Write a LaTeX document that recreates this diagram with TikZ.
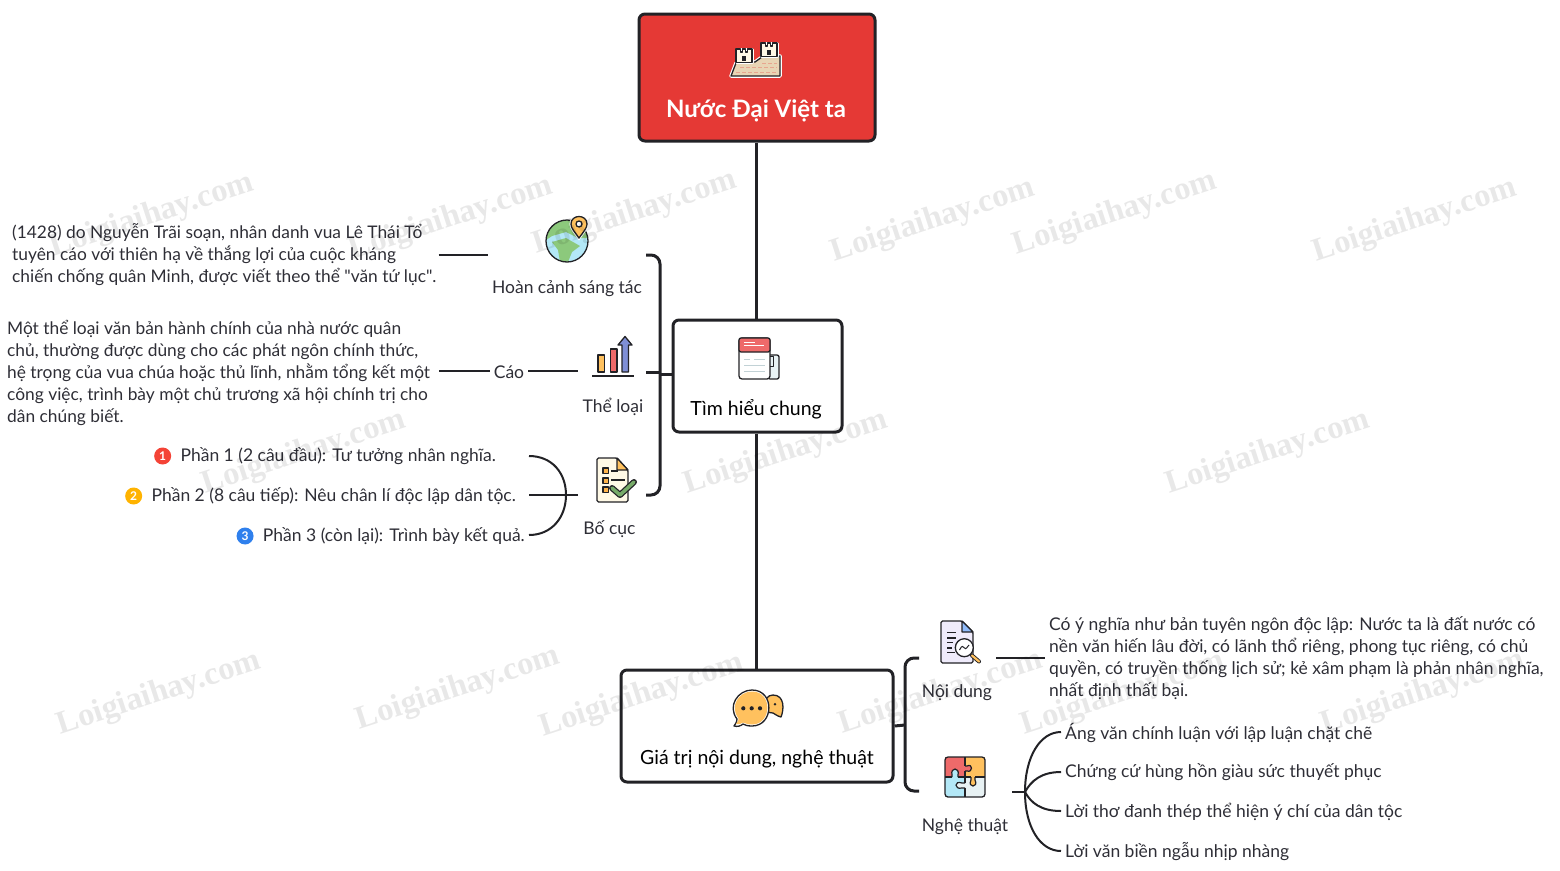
\documentclass[tikz,border=0pt]{standalone}
\usepackage{fontspec}
\setmainfont{Lato}
\newfontfamily\quotefont{Lato}
\newfontfamily\markfont{Liberation Serif}
\usetikzlibrary{positioning, calc}

\definecolor{inkc}{HTML}{222226}
\definecolor{textc}{HTML}{2E2E36}
\definecolor{rootc}{HTML}{E53935}
\definecolor{yellowc}{HTML}{FFC15E}
\definecolor{redc}{HTML}{EE6A6A}
\definecolor{bluec}{HTML}{B3E8F7}
\definecolor{greenc}{HTML}{8CC97C}
\definecolor{indigoc}{HTML}{7F8FD6}
\definecolor{paperc}{HTML}{FFF9E6}
\definecolor{lilacc}{HTML}{EFEBFB}
\definecolor{mistc}{HTML}{E8F2F4}
\definecolor{sandc}{HTML}{E8D5B5}
\definecolor{badgered}{HTML}{F44336}
\definecolor{badgeorange}{HTML}{FFB300}
\definecolor{badgeblue}{HTML}{2F80ED}

\begin{document}
\begin{tikzpicture}[
		x=1pt, y=-1pt,
		font=\fontsize{17.5}{22}\selectfont,
		text=textc,
		box/.style={
			draw=inkc,
			fill=white,
			line width=3pt,
			rectangle,
			rounded corners=6pt
		},
		boxtext/.style={
			font=\fontsize{19.5}{22}\selectfont,
			text=black
		},
		desc/.style={
			align=left,
			inner sep=0pt,
			anchor=west
		},
		leftdesc/.style={
			desc,
			font=\fontsize{17.35}{22}\selectfont
		},
		topic/.style={
			inner sep=0pt
		},
		part/.style={
			inner sep=0pt,
			anchor=west
		},
		badge/.style={
			circle,
			inner sep=0pt,
			minimum size=17pt,
			font=\fontsize{12}{12}\selectfont\bfseries,
			text=white
		},
		trunk/.style={inkc, line width=3pt},
		bracket/.style={inkc, line width=3pt, rounded corners=9pt},
		twig/.style={inkc, line width=2pt},
		icon/.style={draw=inkc, line width=1.3pt, line join=round},
		watermark/.style={
			font=\markfont\fontsize{32.5}{33}\selectfont\bfseries,
			text=black,
			text opacity=0.09,
			rotate=18,
			inner sep=0pt
		}
		]
		\useasboundingbox (0,0) rectangle (1560,870);
		
		% ---- Main boxes ----
		\node[box, fill=rootc, minimum width=236pt, minimum height=127pt] (root) at (757,77.5) {};
		\node[boxtext, font=\fontsize{24}{26}\selectfont\bfseries, text=white] (rootlabel) at (756,111) {Nước Đại Việt ta};
		
		\node[box, minimum width=169pt, minimum height=112pt] (tim) at (757.5,376) {};
		\node[boxtext] (timlabel) at (756,409.5) {Tìm hiểu chung};
		
		\node[box, minimum width=272pt, minimum height=112pt] (gia) at (757,726) {};
		\node[boxtext] (gialabel) at (757,759.5) {Giá trị nội dung, nghệ thuật};
		
		\draw[trunk] (root.south -| 756,0) -- (tim.north -| 756,0);
		\draw[trunk] (tim.south -| 756,0) -- (gia.north -| 756,0);
		
		% ---- Left side ----
		\node[topic] (hoan) at (567,288.5) {Hoàn cảnh sáng tác};
		\node[topic] (theloai) at (613,406.5) {Thể loại};
		\node[topic] (bocuc) at (609.5,529.5) {Bố cục};
		\node[topic] (cao) at (509,372) {Cáo};
		
		\node[leftdesc] (tacpham) at (12,255) {(1428) do Nguyễn Trãi soạn, nhân danh vua Lê Thái Tổ\\tuyên cáo với thiên hạ về thắng lợi của cuộc kháng\\chiến chống quân Minh, được viết theo thể {\quotefont"}văn tứ lục{\quotefont"}.};
		\node[leftdesc] (caotext) at (7,372.5) {Một thể loại văn bản hành chính của nhà nước quân\\chủ, thường được dùng cho các phát ngôn chính thức,\\hệ trọng của vua chúa hoặc thủ lĩnh, nhằm tổng kết một\\công việc, trình bày một chủ trương xã hội chính trị cho\\dân chúng biết.};
		
		\node[part, anchor=east] (phan1) at (496,456) {Phần 1 (2 câu đầu): Tư tưởng nhân nghĩa.};
		\node[part, anchor=east] (phan2) at (516,496) {Phần 2 (8 câu tiếp): Nêu chân lí độc lập dân tộc.};
		\node[part, anchor=east] (phan3) at (525,536) {Phần 3 (còn lại): Trình bày kết quả.};
		\node[badge, fill=badgered, left=9pt of phan1] (badge1) {1};
		\node[badge, fill=badgeorange, left=9pt of phan2] (badge2) {2};
		\node[badge, fill=badgeblue, left=9pt of phan3] (badge3) {3};
		
		\coordinate (hoanL) at (488,255);
		\coordinate (hoanR) at (646,255);
		\coordinate (theloaiL) at (578,371);
		\coordinate (theloaiR) at (646,372);
		\coordinate (bocucL) at (578,495);
		\coordinate (bocucR) at (646,495);
		\coordinate (spineL) at (660,372);
		\coordinate (forkL) at (566,495);
		\coordinate (part1end) at (529,456);
		\coordinate (part2end) at (529,495);
		\coordinate (part3end) at (529,535);
		
		\draw[bracket] (hoanR) -- (hoanR -| spineL) -- (bocucR -| spineL) -- (bocucR);
		\draw[trunk] (theloaiR) -- (spineL);
		\draw[trunk] ([yshift=2pt]tim.west) -- ([yshift=2pt]tim.west -| spineL);
		
		\draw[twig] ([xshift=2pt]tacpham.east |- hoanL) -- (hoanL);
		\draw[twig] ([xshift=9pt]caotext.east |- theloaiL) -- ([xshift=-4pt]cao.west |- theloaiL);
		\draw[twig] ([xshift=4pt]cao.east |- theloaiL) -- (theloaiL);
		
		\draw[twig] (bocucL) -- (part2end);
		\draw[twig] (forkL) .. controls (566,473) and (552,456) .. (part1end);
		\draw[twig] (forkL) .. controls (566,517) and (552,535) .. (part3end);
		
		% ---- Right side ----
		\node[topic] (noidung) at (957,692.5) {Nội dung};
		\node[topic] (nghethuat) at (965,826.5) {Nghệ thuật};
		
		\node[desc] (noidungtext) at (1049,658.5) {Có ý nghĩa như bản tuyên ngôn độc lập: Nước ta là đất nước có\\nền văn hiến lâu đời, có lãnh thổ riêng, phong tục riêng, có chủ\\quyền, có truyền thống lịch sử; kẻ xâm phạm là phản nhân nghĩa,\\nhất định thất bại.};
		
		\node[part] (art1) at (1065,733) {Áng văn chính luận với lập luận chặt chẽ};
		\node[part] (art2) at (1065,772) {Chứng cứ hùng hồn giàu sức thuyết phục};
		\node[part] (art3) at (1065,812) {Lời thơ đanh thép thể hiện ý chí của dân tộc};
		\node[part] (art4) at (1065,852) {Lời văn biền ngẫu nhịp nhàng};
		
		\coordinate (noidungL) at (919,658);
		\coordinate (noidungR) at (996,658);
		\coordinate (nghethuatL) at (919,791);
		\coordinate (nghethuatR) at (1012,792);
		\coordinate (spineR) at (905,725);
		\coordinate (forkR) at (1025,792);
		
		\draw[bracket] (noidungL) -- (noidungL -| spineR) -- (nghethuatL -| spineR) -- (nghethuatL);
		\draw[trunk] (gia.east) -- (spineR);
		
		\draw[twig] (noidungR) -- ([xshift=-4pt]noidungtext.west |- noidungR);
		\draw[twig] (nghethuatR) -- (forkR);
		\draw[twig] (forkR) .. controls (1025,757) and (1040,732) .. ([xshift=-4pt]art1.west |- 0,732);
		\draw[twig] (forkR) .. controls (1031,781) and (1041,772) .. ([xshift=-4pt]art2.west |- 0,772);
		\draw[twig] (forkR) .. controls (1031,803) and (1041,811) .. ([xshift=-4pt]art3.west |- 0,811);
		\draw[twig] (forkR) .. controls (1025,827) and (1040,851) .. ([xshift=-4pt]art4.west |- 0,851);
		
		% ---- Icon: castle ----
		\draw[white, line width=3.5pt, line join=round] (731,76) -- (736,63) -- (755,62) -- (762,57) -- (780,56) -- (780,76) -- cycle;
		\draw[icon, fill=sandc] (731,76) -- (736,63) -- (755,62) -- (762,57) -- (780,56) -- (780,76) -- cycle;
		\draw[rootc!30!sandc, line width=1pt, dash pattern=on 4pt off 2pt] (736,72) -- (777,72) (740,67.5) -- (777,67.5) (762,63) -- (777,63);
		\foreach \tx/\ty in {736/49, 761/43} {
			\draw[white, line width=3pt, line join=round] (\tx,\ty) rectangle (\tx+16,\ty+13.5);
			\draw[icon, fill=paperc] (\tx,\ty) -- (\tx+4.5,\ty) -- (\tx+4.5,\ty+3) -- (\tx+6.5,\ty+3) -- (\tx+6.5,\ty) -- (\tx+9.5,\ty) -- (\tx+9.5,\ty+3) -- (\tx+11.5,\ty+3) -- (\tx+11.5,\ty) -- (\tx+16,\ty) -- (\tx+16,\ty+13.5) -- (\tx,\ty+13.5) -- cycle;
			\fill[inkc] (\tx+6,\ty+11.5) rectangle (\tx+10,\ty+7);
		}
		
		% ---- Icon: globe ----
		\begin{scope}
			\clip (567,241) circle (21pt);
			\fill[bluec] (546,220) rectangle (588,262);
			\fill[greenc] (546,226) -- (562,219) -- (590,222) -- (590,238) -- (578,238) -- (566,232) -- (552,236) -- (546,240) -- cycle;
			\fill[greenc] (552,242) -- (566,238) -- (580,246) -- (572,252) -- (568,262) -- (560,262) -- (558,250) -- cycle;
		\end{scope}
		\draw[icon] (567,241) circle (21pt);
		\draw[white, line width=3pt] (579,238) .. controls (574,231) and (571,228) .. (571,224) .. controls (571,214) and (587,214) .. (587,224) .. controls (587,228) and (584,231) .. (579,238) -- cycle;
		\draw[icon, fill=yellowc] (579,238) .. controls (574,231) and (571,228) .. (571,224) .. controls (571,214) and (587,214) .. (587,224) .. controls (587,228) and (584,231) .. (579,238) -- cycle;
		\draw[icon, fill=white] (579,224) circle (3pt);
		
		% ---- Icon: bars ----
		\draw[icon, fill=yellowc] (598,355) rectangle (604.5,372);
		\draw[icon, fill=redc] (610.5,349) rectangle (617,372);
		\draw[icon, fill=indigoc] (622,372) -- (622,345) -- (618,345) -- (625,336.5) -- (632,345) -- (628.5,345) -- (628.5,372) -- cycle;
		\draw[inkc, line width=1.5pt] (592,376) -- (634,376);
		
		% ---- Icon: checklist ----
		\draw[icon, fill=paperc, rounded corners=1.5pt] (597,458) -- (617,458) -- (628,470) -- (628,502) -- (597,502) -- cycle;
		\draw[icon, fill=yellowc] (617,458) -- (628,470) -- (617,470) -- cycle;
		\foreach \qy in {468, 478, 487} {
			\draw[icon, fill=yellowc!80!orange] (603,\qy) rectangle (608.5,\qy+5.5);
		}
		\draw[inkc, line width=1.2pt] (611,471) -- (618,471) (611,480) -- (625,480);
		\draw[inkc, line width=6pt, line join=round, line cap=round] (612,488) -- (620,495) -- (634,482);
		\draw[greenc!85!black, line width=3.5pt, line join=round, line cap=round] (612,488) -- (620,495) -- (634,482);
		
		% ---- Icon: newspaper ----
		\draw[icon, fill=mistc, rounded corners=2pt] (768,355) -- (779,355) -- (779,379) -- (768,379) -- cycle;
		\draw[icon, fill=white, rounded corners=3pt] (739,338) -- (770,338) -- (770,379) -- (739,379) -- cycle;
		\draw[icon, fill=redc, rounded corners=2pt] (739,352) -- (739,338) -- (770,338) -- (770,352) -- cycle;
		\draw[white, line width=1pt] (744,342) -- (755,342) (744,345.5) -- (764,345.5);
		\draw[bluec!50!gray!60, line width=1pt] (744,359) -- (750,359) (754,359) -- (765,359) (744,365) -- (765,365) (744,371) -- (765,371);
		\draw[icon, line width=1pt] (770,356) -- (773,356) -- (773,366) -- (770,366);
		
		% ---- Icon: chat ----
		\draw[icon, fill=yellowc] (781,717) .. controls (777,716) and (775,714) .. (773,713) .. controls (762,714) and (762,695) .. (773,695) .. controls (785,695) and (784,710) .. (781,717) -- cycle;
		\fill[inkc] (775,704.3) circle (1.4pt);
		\draw[icon, fill=white] (734,726) .. controls (737,722) and (737,720) .. (737,719) .. controls (727,706) and (738,690) .. (752,690) .. controls (775,690) and (774,726) .. (752,726) .. controls (747,726) and (745,725) .. (743,724) .. controls (741,726) and (737,727) .. (734,726) -- cycle;
		\fill[yellowc] (736,724) .. controls (738,721) and (739,720) .. (738.5,718.5) .. controls (729,706) and (739,691.5) .. (752,691.5) .. controls (773,691.5) and (772,724.5) .. (752,724.5) .. controls (747,724.5) and (745,723) .. (743,722.5) .. controls (741,724) and (738,725) .. (736,724) -- cycle;
		\foreach \dotx in {743.3, 751.7, 760} {
			\fill[inkc] (\dotx,708.3) circle (2.1pt);
		}
		
		% ---- Icon: document search ----
		\draw[icon, fill=lilacc, rounded corners=1.5pt] (941,621) -- (962,621) -- (973,632) -- (973,663) -- (941,663) -- cycle;
		\draw[icon, fill=bluec!80!blue] (962,621) -- (973,632) -- (962,632) -- cycle;
		\draw[inkc, line width=1.2pt] (947,632.7) -- (956,632.7) (947,638) -- (956,638) (947,642.7) -- (953,642.7) (947,648) -- (952,648) (947,652.5) -- (955,652.5);
		\draw[inkc, line width=4pt, line cap=round] (972,655.5) -- (979,661.5);
		\draw[yellowc, line width=2.2pt, line cap=round] (972,655.5) -- (979,661.5);
		\draw[icon, fill=white] (964.3,647.7) circle (9pt);
		\draw[inkc, line width=1pt] (959.5,650) .. controls (962,645) and (963,646) .. (964.5,648) .. controls (966,650) and (967,647) .. (969,645);
		
		% ---- Icon: puzzle ----
		\fill[redc] (945,757) rectangle (965,777);
		\fill[yellowc] (965,757) rectangle (985,777);
		\fill[bluec] (945,777) rectangle (965,797);
		\fill[mistc] (965,777) rectangle (985,797);
		\draw[inkc, line width=1.2pt, fill=bluec] (952,777) -- (952,775) .. controls (950,767) and (960,767) .. (958,775) -- (958,777);
		\draw[inkc, line width=1.2pt, fill=redc] (965,766) -- (967,766) .. controls (973,763) and (973,773) .. (967,771) -- (965,771);
		\draw[inkc, line width=1.2pt, fill=yellowc] (971,777) -- (971,780) .. controls (967,788) and (979,788) .. (975,780) -- (975,777);
		\draw[inkc, line width=1.2pt, fill=mistc] (965,783) -- (962,783) .. controls (954,780) and (954,790) .. (962,788) -- (965,788);
		\draw[inkc, line width=1.2pt] (945,777) -- (952,777) (958,777) -- (971,777) (975,777) -- (985,777);
		\draw[inkc, line width=1.2pt] (965,757) -- (965,766) (965,771) -- (965,783) (965,788) -- (965,797);
		\draw[icon, rounded corners=3pt] (945,757) rectangle (985,797);
		
		% ---- Watermarks ----
		\foreach \wmx/\wmy [count=\wmn] in {152/216, 451/219, 635/213, 933/221, 1115/214, 1415/221, 304/453, 786/453, 1268/453, 159/694, 458/689, 642/696, 941/693, 1123/694, 1423/693} {
			\node[watermark] (mark\wmn) at (\wmx,\wmy) {Loigiaihay.com};
		}
		
	\end{tikzpicture}
\end{document}
